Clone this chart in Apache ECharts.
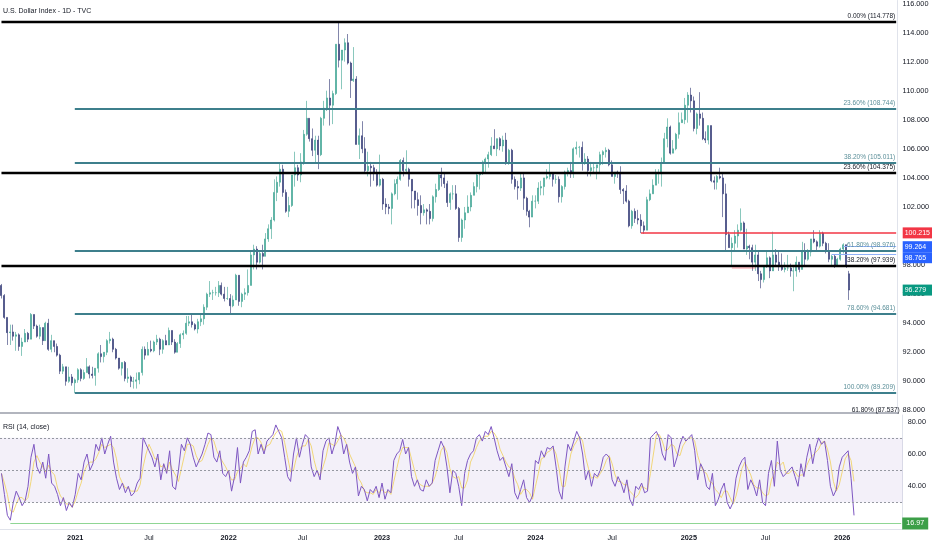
<!DOCTYPE html>
<html><head><meta charset="utf-8">
<script src="https://cdn.jsdelivr.net/npm/echarts@6.0.0/dist/echarts.min.js"></script>
<style>html,body{margin:0;padding:0;background:#fff}#c{width:932px;height:550px}</style>
</head><body><div id="c"></div>
<script>
// ---------- DATA (weekly, week ending Friday, from 2020-07-17) ----------
const startDate = [2020, 6, 17];
const slotCount = 306; // weekly slots on the time scale (incl. empty future weeks)

const opens = [
96.6,95.9,94.4,93.35,93.4,93.1,93.2,92.4,92.7,93.3,
92.9,94.6,93.8,93.1,93.7,92.8,94.0,92.2,92.8,92.4,
91.8,90.7,91.0,90.0,90.3,89.9,90.1,90.8,90.2,90.6,
91.0,90.5,90.4,90.9,91.9,91.7,92.0,92.8,92.9,92.2,
91.6,90.9,91.3,90.2,90.3,90.0,90.0,90.1,90.6,92.2,
91.8,92.2,92.1,92.7,92.9,92.2,92.8,92.5,93.5,92.7,
92.0,92.6,93.2,93.3,94.0,94.1,93.9,93.6,94.1,94.3,
95.1,96.0,96.1,96.1,96.1,96.6,96.0,95.7,95.7,95.2,
95.6,97.3,95.5,96.0,96.1,96.6,98.7,99.1,98.2,98.8,
98.6,99.8,100.5,101.1,103.0,103.7,104.6,103.0,101.7,102.1,
104.2,104.7,104.2,105.1,107.0,108.1,106.7,105.9,106.6,105.6,
108.1,108.8,109.5,109.0,109.8,113.2,112.1,112.8,113.3,111.9,
110.7,110.8,106.3,106.9,106.0,104.5,104.8,104.7,104.3,103.5,
103.9,102.2,102.0,101.9,102.9,103.6,103.9,105.2,104.5,104.6,
103.9,103.1,102.5,102.1,101.6,101.8,101.7,101.2,102.7,103.2,
104.2,104.0,103.6,102.3,102.9,102.9,101.9,99.9,101.1,101.6,
102.0,102.8,103.4,104.2,104.3,105.1,105.3,105.6,106.2,106.0,
106.7,106.2,106.6,105.1,105.9,103.9,103.4,103.3,104.0,102.6,
101.7,101.3,102.4,102.4,103.3,103.4,104.0,104.1,104.3,103.9,
103.9,102.7,103.4,104.4,104.5,104.3,106.0,106.1,106.1,105.0,
105.3,104.5,104.7,104.7,104.9,105.6,105.8,105.9,104.9,104.1,
104.4,104.3,103.2,103.1,102.4,100.7,101.7,101.2,101.1,100.7,
100.4,102.5,102.9,103.5,104.3,104.3,105.0,106.7,107.5,105.7,
106.0,107.0,107.8,108.0,109.0,109.7,109.3,107.4,108.4,108.1,
106.7,106.6,107.6,103.8,103.7,104.1,104.0,102.9,100.1,99.2,
99.5,100.0,100.4,100.9,99.1,99.3,99.2,98.2,98.7,97.4,
97.0,97.9,98.5,97.6,98.7,98.2,97.9,97.7,97.8,97.8,
97.6,97.6,98.2,97.7,98.9,98.4,98.9,99.8,99.6,99.3,
100.2,99.5,99.0,98.4,98.6,98.0,98.4,99.1,99.4,97.4];

const closes = [
95.9,94.4,93.35,93.4,93.1,93.2,92.4,92.7,93.3,92.9,
94.6,93.8,93.1,93.7,92.8,94.0,92.2,92.8,92.4,91.8,
90.7,91.0,90.0,90.3,89.9,90.1,90.8,90.2,90.6,91.0,
90.5,90.4,90.9,91.9,91.7,92.0,92.8,92.9,92.2,91.6,
90.9,91.3,90.2,90.3,90.0,90.0,90.1,90.6,92.2,91.8,
92.2,92.1,92.7,92.9,92.2,92.8,92.5,93.5,92.7,92.0,
92.6,93.2,93.3,94.0,94.1,93.9,93.6,94.1,94.3,95.1,
96.0,96.1,96.1,96.1,96.6,96.0,95.7,95.7,95.2,95.6,
97.3,95.5,96.0,96.1,96.6,98.7,99.1,98.2,98.8,98.6,
99.8,100.5,101.1,103.0,103.7,104.6,103.0,101.7,102.1,104.2,
104.7,104.2,105.1,107.0,108.1,106.7,105.9,106.6,105.6,108.1,
108.8,109.5,109.0,109.8,113.2,112.1,112.8,113.3,111.9,110.7,
110.8,106.3,106.9,106.0,104.5,104.8,104.7,104.3,103.5,103.9,
102.2,102.0,101.9,102.9,103.6,103.9,105.2,104.5,104.6,103.9,
103.1,102.5,102.1,101.6,101.8,101.7,101.2,102.7,103.2,104.2,
104.0,103.6,102.3,102.9,102.9,101.9,99.9,101.1,101.6,102.0,
102.8,103.4,104.2,104.3,105.1,105.3,105.6,106.2,106.0,106.7,
106.2,106.6,105.1,105.9,103.9,103.4,103.3,104.0,102.6,101.7,
101.3,102.4,102.4,103.3,103.4,104.0,104.1,104.3,103.9,103.9,
102.7,103.4,104.4,104.5,104.3,106.0,106.1,106.1,105.0,105.3,
104.5,104.7,104.7,104.9,105.6,105.8,105.9,104.9,104.1,104.4,
104.3,103.2,103.1,102.4,100.7,101.7,101.2,101.1,100.7,100.4,
102.5,102.9,103.5,104.3,104.3,105.0,106.7,107.5,105.7,106.0,
107.0,107.8,108.0,109.0,109.7,109.3,107.4,108.4,108.1,106.7,
106.6,107.6,103.8,103.7,104.1,104.0,102.9,100.1,99.2,99.5,
100.0,100.4,100.9,99.1,99.3,99.2,98.2,98.7,97.4,97.0,
97.9,98.5,97.6,98.7,98.2,97.9,97.7,97.8,97.8,97.6,
97.6,98.2,97.7,98.9,98.4,98.9,99.8,99.6,99.3,100.2,
99.5,99.0,98.4,98.6,98.0,98.4,99.1,99.4,98.0,96.279];

const lows = [
95.7,94.3,92.5,92.5,92.8,92.1,92.1,91.75,92.7,92.7,
92.9,93.6,93.0,92.9,92.5,92.8,92.1,92.0,92.0,91.7,
90.5,90.5,89.7,89.9,89.7,89.2,89.9,90.0,90.1,90.6,
90.2,90.2,89.7,90.6,91.3,91.3,91.8,92.6,92.0,91.5,
90.8,90.4,90.0,89.9,89.6,89.5,89.5,89.8,90.4,91.5,
91.8,92.0,92.0,92.5,91.8,91.9,92.5,92.5,92.5,91.9,
92.0,92.3,92.9,93.2,93.8,93.7,93.5,93.3,93.8,93.9,
94.9,95.8,95.6,95.9,95.8,95.9,95.5,95.6,94.6,95.1,
95.6,95.2,95.1,95.6,95.9,96.6,97.7,97.7,98.1,97.7,
98.6,99.6,99.8,101.0,102.4,103.4,102.7,101.6,101.3,102.0,
103.4,103.8,103.7,104.9,106.9,106.5,105.5,105.0,104.6,105.5,
107.6,108.6,107.6,107.7,109.7,111.6,110.1,112.0,111.8,109.5,
110.6,106.3,105.3,105.7,104.4,104.1,103.4,103.8,103.4,103.4,
101.8,101.5,101.5,100.8,102.8,102.5,103.8,104.1,104.4,103.4,
101.9,101.9,101.4,100.8,101.4,100.8,100.8,101.0,102.3,103.1,
103.4,103.3,102.0,101.8,102.5,101.8,99.6,99.6,100.5,101.6,
101.7,102.8,103.0,103.2,104.2,104.4,104.7,105.5,106.0,105.5,
105.9,105.8,104.9,104.9,103.6,103.2,102.5,103.1,101.8,101.4,
100.6,101.3,101.9,102.2,102.8,102.8,103.9,103.9,103.4,103.6,
102.3,102.3,103.2,104.1,104.0,104.0,105.6,105.4,104.5,104.9,
104.1,104.1,104.4,103.9,104.3,104.9,105.4,104.8,104.1,103.6,
104.0,102.9,102.2,102.3,100.6,100.5,100.9,100.8,100.2,100.16,
100.4,102.4,102.9,103.5,103.6,103.4,105.0,106.1,105.6,105.7,
105.9,106.7,107.8,107.7,107.8,108.5,107.2,107.0,107.6,106.6,
106.4,106.3,103.7,103.2,103.2,103.9,101.3,99.0,99.2,97.9,
99.0,99.2,100.3,99.1,98.7,98.4,97.6,97.6,96.9,96.4,
96.8,97.8,97.1,97.6,97.9,97.6,97.6,97.5,97.6,97.2,
96.2,97.2,97.5,97.7,98.0,98.3,98.6,99.5,98.9,99.2,
99.3,98.8,98.2,97.9,97.8,97.9,98.3,98.8,97.8,95.6];

const highs = [
96.7,96.0,94.4,93.9,93.9,93.4,93.3,93.0,93.6,93.4,
94.7,94.6,93.9,93.9,93.7,94.1,94.3,93.2,92.8,92.6,
91.9,91.2,91.0,91.0,90.5,90.2,90.9,90.9,90.8,91.6,
91.1,91.0,90.9,92.0,92.5,92.0,92.9,93.4,93.0,92.3,
91.6,91.3,91.4,90.9,90.4,90.3,90.6,90.6,92.4,92.4,
92.7,92.8,92.8,93.2,93.0,92.9,93.2,93.7,93.5,92.9,
92.7,93.3,93.5,94.5,94.5,94.6,94.0,94.3,94.6,95.3,
96.1,96.9,96.3,96.5,96.9,96.8,96.5,96.5,96.0,95.9,
97.4,97.3,96.1,96.4,97.7,98.9,99.4,99.3,99.0,99.4,
100.2,100.8,101.3,103.9,104.1,105.0,104.9,103.2,102.7,104.2,
105.8,104.9,105.7,107.3,109.3,108.1,107.4,106.9,106.9,108.2,
109.3,110.0,110.8,110.0,113.2,114.778,112.8,113.6,113.9,112.0,
113.0,111.0,107.4,107.9,106.8,105.8,105.1,104.9,104.6,105.6,
104.0,102.6,102.2,103.0,103.9,104.1,105.3,105.4,105.9,104.7,
103.9,103.1,103.0,102.8,102.2,101.9,102.2,102.8,103.6,104.4,
104.7,104.4,103.8,103.0,103.5,103.5,102.0,101.2,102.0,102.8,
103.0,103.7,104.4,104.3,105.2,105.4,105.8,106.8,107.35,106.7,
106.8,106.9,107.1,106.0,106.0,104.1,103.8,104.3,104.3,102.7,
101.8,102.8,102.8,103.7,103.8,104.0,104.6,105.0,104.4,104.2,
104.1,103.5,104.5,104.7,105.1,106.1,106.5,106.2,106.5,105.7,
105.5,105.1,105.0,104.9,105.8,105.9,106.1,106.0,105.2,104.4,
104.5,104.8,103.3,103.5,102.5,101.8,101.9,101.8,101.5,101.0,
102.7,103.2,103.9,104.6,104.6,105.4,107.1,108.1,107.6,106.6,
107.1,108.5,108.5,109.5,109.9,110.2,109.6,108.5,109.9,108.5,
107.2,107.6,107.6,104.1,104.2,104.7,104.4,103.6,100.3,99.9,
100.4,100.8,101.9,101.0,100.5,99.4,99.4,99.4,99.0,97.6,
98.0,98.9,98.6,100.3,99.1,98.9,98.8,98.2,98.7,98.1,
97.9,98.6,98.2,99.6,99.5,99.1,99.8,100.4,99.7,100.4,
100.3,99.6,99.5,98.7,98.7,98.5,99.2,99.5,99.4,97.6];

const rsi = [
48,35,22,19,30,37,33,28,31,40,
58,66,52,48,55,45,60,42,40,35,
28,33,25,30,27,35,48,44,55,60,
50,54,66,62,70,60,66,71,55,45,
38,42,36,40,34,36,42,45,70,66,
62,58,52,60,44,54,48,62,40,38,
50,66,62,70,66,58,52,56,60,66,
73,72,58,55,62,48,46,50,37,46,
64,42,55,58,62,74,75,60,66,60,
68,70,72,78,74,70,58,46,43,60,
70,58,66,72,70,52,46,50,44,62,
68,70,60,66,77,72,60,66,55,48,
52,34,40,38,31,38,36,40,33,42,
32,38,36,56,60,62,69,60,64,46,
40,44,38,37,44,40,42,56,62,68,
64,52,36,50,48,40,28,48,56,60,
62,70,72,68,74,72,77,70,62,56,
58,52,46,54,36,32,38,44,33,30,
34,56,54,62,58,64,63,65,52,37,
32,52,66,62,68,74,70,60,44,50,
40,48,46,50,58,60,58,44,40,46,
42,36,44,32,28,40,38,42,36,37,
70,72,74,70,60,56,72,70,52,58,
66,71,68,70,72,62,44,54,50,40,
38,48,28,32,38,42,30,26,30,45,
52,56,58,38,44,40,34,44,30,28,
48,56,40,68,50,46,48,50,52,46,
40,54,46,58,66,54,64,70,66,68,
56,40,34,38,52,58,60,62,45,22];

const rsiMa = [
48,42,35,25,24,29,33,33,31,33,
43,55,59,55,52,49,53,49,47,39,
34,32,29,29,27,31,37,42,49,53,
55,55,57,61,66,64,65,66,64,57,
46,42,39,39,37,37,37,41,52,60,
66,62,57,57,52,53,49,55,50,47,
43,51,59,66,66,65,59,55,56,61,
66,70,68,62,58,55,52,48,44,44,
49,51,54,52,58,65,70,70,67,62,
65,66,70,73,75,74,67,58,49,50,
58,63,65,65,69,65,56,49,47,52,
58,67,66,65,68,72,70,66,60,56,
52,45,42,37,36,36,35,38,36,38,
36,37,35,43,51,59,64,64,64,57,
50,43,41,40,40,40,42,46,53,62,
65,61,51,46,45,46,39,39,44,55,
59,64,68,70,71,71,74,73,70,63,
59,55,52,51,45,41,35,38,38,36,
32,40,48,57,58,61,62,64,60,51,
40,40,50,60,65,68,71,68,58,51,
45,46,45,48,51,56,59,54,47,43,
43,41,41,37,35,33,35,40,39,38,
48,60,72,72,68,62,63,66,65,60,
59,65,68,70,70,68,59,53,49,48,
43,42,38,36,33,37,37,33,29,34,
42,51,55,51,47,41,39,39,36,34,
35,44,48,55,53,55,48,48,50,49,
46,47,47,53,57,59,61,63,67,68,
63,55,43,37,41,49,57,60,56,43];

const xTickDates = ['2021-01-08','2021-07-02','2022-01-07','2022-07-01','2023-01-06','2023-07-07','2024-01-05','2024-07-05','2025-01-03','2025-07-04','2026-01-02'];
const xTickTexts = ['2021','Jul','2022','Jul','2023','Jul','2024','Jul','2025','Jul','2026'];
const priceTicks = [88,90,92,94,96,98,100,102,104,106,108,110,112,114,116];
const rsiTicks = [40,60,80];

// Fibonacci levels
const blackFibLevels = [114.778, 104.375, 97.939];
const blackFibPct = ['0.00%', '23.60%', '38.20%'];
const blackFibStart = '2020-07-17';
const lowFibLevel = 87.537, lowFibPct = '61.80%';
const tealFibLevels = [108.744, 105.011, 98.976, 94.681, 89.209];
const tealFibPct = ['23.60%', '38.20%', '61.80%', '78.60%', '100.00%'];
const tealFibStart = '2021-01-08';
// other horizontal lines
const supportLevel = 100.215, supportStart = '2024-09-20';
const fadedLevel = 97.8, fadedStart = '2025-04-25', fadedEnd = '2025-06-20';
const blueLevels = [99.264, 98.765];
const blueStarts = ['2026-01-16', '2025-12-19'];
const rsiLevels = [70, 50, 30];
const rsiMarkLevel = 16.97, rsiMarkStart = '2020-08-07';

// ---------- BUILD ----------
const cats = [];
for (let i = 0; i < slotCount; i++) {
  const d = new Date(Date.UTC(startDate[0], startDate[1], startDate[2]) + i * 7 * 86400000);
  cats.push(d.toISOString().slice(0, 10));
}
const lastCat = cats[cats.length - 1];
const candles = opens.map((o, i) => [o, closes[i], lows[i], highs[i]]);

const FONT = "'Liberation Sans Narrow','Liberation Sans',sans-serif";
const TXT = '#131722';
const TEAL = '#3d7f8c';
const FIBFS = 6.5;
const AXFS = 7.3;

const fibLines = [];
blackFibLevels.forEach((v, i) => fibLines.push([
  { coord: [blackFibStart, v], lineStyle: { color: '#000000', width: 2.4, type: 'solid' },
    label: { show: true, position: 'insideEndTop', distance: [1, 2], padding: 0, formatter: blackFibPct[i] + ' (' + v.toFixed(3) + ')', color: TXT, fontSize: FIBFS, fontFamily: FONT } },
  { coord: [lastCat, v] }]));
tealFibLevels.forEach((v, i) => fibLines.push([
  { coord: [tealFibStart, v], lineStyle: { color: TEAL, width: 2, type: 'solid' },
    label: { show: true, position: 'insideEndTop', distance: [1, 2], padding: 0, formatter: tealFibPct[i] + ' (' + v.toFixed(3) + ')', color: '#5b8f99', fontSize: FIBFS, fontFamily: FONT } },
  { coord: [lastCat, v] }]));
fibLines.push([{ coord: [supportStart, supportLevel], lineStyle: { color: '#f23645', width: 1.6, type: 'solid' }, label: { show: false } }, { coord: [lastCat, supportLevel] }]);
fibLines.push([{ coord: [fadedStart, fadedLevel], lineStyle: { color: 'rgba(242,54,69,0.3)', width: 1.6, type: 'solid' }, label: { show: false } }, { coord: [fadedEnd, fadedLevel] }]);
blueLevels.forEach((v, i) => fibLines.push([{ coord: [blueStarts[i], v], lineStyle: { color: '#8fb0f7', width: 1, type: 'solid' }, label: { show: false } }, { coord: [lastCat, v] }]));

const rsiLines = rsiLevels.map(v => ({ yAxis: v, lineStyle: { color: '#9598a1', width: 1, type: [2, 2] }, label: { show: false } }));
rsiLines.push([{ coord: [rsiMarkStart, rsiMarkLevel], lineStyle: { color: '#8fd694', width: 1.2, type: 'solid' },
  label: { show: true, position: 'end', distance: 1, formatter: rsiMarkLevel.toFixed(2), color: '#fff', backgroundColor: '#3c9f48', padding: [3, 4, 2, 4], fontSize: 7.2, fontFamily: FONT } },
  { coord: [lastCat, rsiMarkLevel] }]);

const chart = echarts.init(document.getElementById('c'), null, { renderer: 'canvas' });
const gridL = -5.5, gridR = 29.3;
const option = {
  animation: false,
  backgroundColor: '#ffffff',
  title: [
    { text: 'U.S. Dollar Index - 1D - TVC', left: 3, top: 7.5, padding: 0, textStyle: { fontSize: 7, fontWeight: 'normal', color: TXT, fontFamily: FONT } },
    { text: 'RSI (14, close)', left: 3, top: 423.5, padding: 0, textStyle: { fontSize: 7, fontWeight: 'normal', color: TXT, fontFamily: FONT } }
  ],
  grid: [
    { left: gridL, right: gridR, top: 0, height: 413 },
    { left: gridL, right: gridR, top: 415, height: 114 }
  ],
  xAxis: [
    { type: 'category', gridIndex: 0, data: cats, boundaryGap: true,
      axisLine: { show: true, lineStyle: { color: '#b2b5be', width: 2 } }, axisTick: { show: false }, axisLabel: { show: false }, splitLine: { show: false } },
    { type: 'category', gridIndex: 1, data: cats, boundaryGap: true,
      axisLine: { show: true, lineStyle: { color: '#e0e3eb', width: 1 } }, axisTick: { show: false }, splitLine: { show: false },
      axisLabel: { show: true, margin: 5, color: TXT, fontSize: AXFS, fontFamily: FONT, hideOverlap: false,
        interval: (i, v) => xTickDates.indexOf(v) >= 0,
        formatter: v => { const t = xTickTexts[xTickDates.indexOf(v)] || ''; return /^\d{4}$/.test(t) ? '{b|' + t + '}' : t; },
        rich: { b: { fontWeight: 'bold', fontSize: AXFS, color: TXT, fontFamily: FONT } } } }
  ],
  yAxis: [
    { type: 'value', gridIndex: 0, position: 'right', min: 87.82, max: 116.206, scale: true,
      axisLine: { show: true, lineStyle: { color: '#e0e3eb' } }, axisTick: { show: false }, splitLine: { show: false },
      axisLabel: { show: true, customValues: priceTicks, formatter: v => v.toFixed(3), color: TXT, fontSize: AXFS, fontFamily: FONT, margin: 5 } },
    { type: 'value', gridIndex: 1, position: 'right', min: 13.56, max: 84.15,
      axisLine: { show: true, lineStyle: { color: '#e0e3eb' } }, axisTick: { show: false }, splitLine: { show: false },
      axisLabel: { show: true, customValues: rsiTicks, formatter: v => v.toFixed(2), color: TXT, fontSize: AXFS, fontFamily: FONT, margin: 5 } }
  ],
  series: [
    { name: 'DXY', type: 'candlestick', xAxisIndex: 0, yAxisIndex: 0, data: candles, barWidth: 1.5,
      itemStyle: { color: '#3aa391', color0: '#2d3472', borderColor: '#3aa391', borderColor0: '#2d3472', borderWidth: 0.6 },
      markLine: { silent: true, symbol: ['none', 'none'], animation: false, data: fibLines } },
    { name: 'RSI', type: 'line', xAxisIndex: 1, yAxisIndex: 1, data: rsi, symbol: 'none', z: 4,
      lineStyle: { color: '#7e57c2', width: 1 },
      markArea: { silent: true, itemStyle: { color: 'rgba(126,87,194,0.09)' }, data: [[{ yAxis: 30 }, { yAxis: 70 }]] },
      markLine: { silent: true, symbol: ['none', 'none'], animation: false, data: rsiLines } },
    { name: 'RSI MA', type: 'line', xAxisIndex: 1, yAxisIndex: 1, data: rsiMa, symbol: 'none', z: 3,
      lineStyle: { color: 'rgba(240,205,80,0.75)', width: 1 } }
  ]
};
chart.setOption(option);

// price tags on the right scale (positions from the axis scale)
const tagValues = [supportLevel, blueLevels[0], blueLevels[1], closes[closes.length - 1]];
const tagColors = ['#f23645', '#2962ff', '#2962ff', '#089981'];
const tagH = 11;
const tags = tagValues.map((v, i) => ({ v, c: tagColors[i], y: chart.convertToPixel({ yAxisIndex: 0 }, v) })).sort((a, b) => a.y - b.y);
let prevBottom = -1e9;
const graphics = [];
const axisX = 932 - gridR;
tags.forEach(t => {
  let top = Math.max(t.y - tagH / 2, prevBottom);
  prevBottom = top + tagH;
  graphics.push({ type: 'rect', z: 100, shape: { x: axisX, y: top, width: 932 - axisX, height: tagH }, style: { fill: t.c } });
  graphics.push({ type: 'text', z: 101, x: axisX + 2, y: top + tagH / 2, style: { text: t.v.toFixed(3), fill: '#fff', font: '7px ' + FONT, verticalAlign: 'middle', align: 'left' } });
});
const lowY = chart.convertToPixel({ yAxisIndex: 0 }, lowFibLevel);
graphics.push({ type: 'text', z: 50, x: axisX - 3, y: lowY - 3.5, style: { text: lowFibPct + ' (' + lowFibLevel.toFixed(3) + ')', fill: TXT, font: FIBFS + 'px ' + FONT, align: 'right', verticalAlign: 'bottom' } });
chart.setOption({ graphic: graphics });
</script>
</body></html>
